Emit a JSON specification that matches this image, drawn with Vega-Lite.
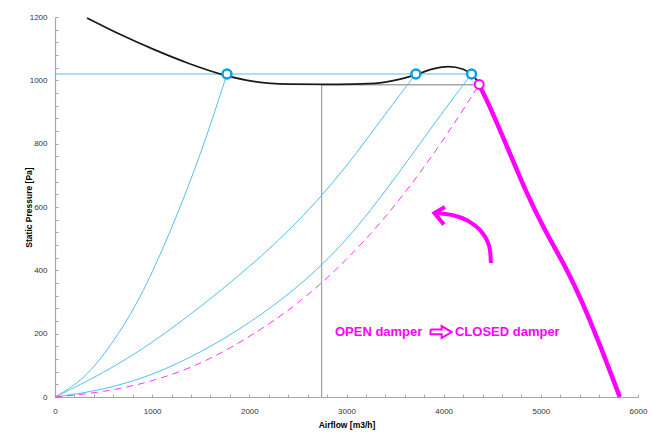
{
  "$schema": "https://vega.github.io/schema/vega-lite/v6.json",
  "width": 583,
  "height": 380,
  "autosize": {"type": "none"},
  "padding": {"left": 55, "top": 17, "right": 14, "bottom": 38},
  "background": "white",
  "config": {
    "view": {"stroke": null},
    "axis": {
      "grid": false,
      "domainColor": "#a6a6a6",
      "domainWidth": 1.2,
      "tickColor": "#a6a6a6",
      "tickSize": -3,
      "labelFont": "Liberation Sans",
      "labelFontSize": 8,
      "labelColor": "#333333",
      "titleFont": "Liberation Sans",
      "titleFontSize": 8.5,
      "titleFontWeight": "bold",
      "titleColor": "#000000"
    }
  },
  "datasets": {
    "gray": [
      {"x": 2744, "y": 0},
      {"x": 2744, "y": 986},
      {"x": 4366, "y": 986}
    ],
    "hline": [
      {"x": 0, "y": 1020},
      {"x": 4287, "y": 1020}
    ],
    "blue": [
      {"s": "b1", "x": 0, "y": 0},
      {"s": "b1", "x": 273, "y": 50},
      {"s": "b1", "x": 513, "y": 135},
      {"s": "b1", "x": 788, "y": 262},
      {"s": "b1", "x": 1028, "y": 408},
      {"s": "b1", "x": 1319, "y": 620},
      {"s": "b1", "x": 1550, "y": 812},
      {"s": "b1", "x": 1770, "y": 1020},
      {"s": "b2", "x": 0, "y": 0},
      {"s": "b2", "x": 500, "y": 75},
      {"s": "b2", "x": 1000, "y": 170},
      {"s": "b2", "x": 1500, "y": 285},
      {"s": "b2", "x": 2000, "y": 410},
      {"s": "b2", "x": 2500, "y": 550},
      {"s": "b2", "x": 3000, "y": 725},
      {"s": "b2", "x": 3400, "y": 895},
      {"s": "b2", "x": 3714, "y": 1020},
      {"s": "b3", "x": 0, "y": 0},
      {"s": "b3", "x": 500, "y": 22},
      {"s": "b3", "x": 1000, "y": 68},
      {"s": "b3", "x": 1500, "y": 140},
      {"s": "b3", "x": 2000, "y": 232},
      {"s": "b3", "x": 2500, "y": 345},
      {"s": "b3", "x": 3000, "y": 490},
      {"s": "b3", "x": 3500, "y": 690},
      {"s": "b3", "x": 4000, "y": 905},
      {"s": "b3", "x": 4287, "y": 1020}
    ],
    "dashed": [
      {"x": 0, "y": 0},
      {"x": 500, "y": 15},
      {"x": 1000, "y": 48},
      {"x": 1500, "y": 103},
      {"x": 2000, "y": 188},
      {"x": 2500, "y": 292},
      {"x": 3000, "y": 430},
      {"x": 3500, "y": 600},
      {"x": 4000, "y": 810},
      {"x": 4340, "y": 975}
    ],
    "fan": [
      {"x": 330, "y": 1197},
      {"x": 685, "y": 1143},
      {"x": 1028, "y": 1096},
      {"x": 1371, "y": 1054},
      {"x": 1715, "y": 1019},
      {"x": 2057, "y": 996},
      {"x": 2400, "y": 988},
      {"x": 2778, "y": 987},
      {"x": 3069, "y": 988},
      {"x": 3344, "y": 992},
      {"x": 3584, "y": 1006},
      {"x": 3714, "y": 1018},
      {"x": 3892, "y": 1036},
      {"x": 4046, "y": 1043},
      {"x": 4201, "y": 1035},
      {"x": 4287, "y": 1018},
      {"x": 4339, "y": 1001},
      {"x": 4366, "y": 985}
    ],
    "closed": [
      {"x": 4366, "y": 985},
      {"x": 4450, "y": 935},
      {"x": 4640, "y": 800},
      {"x": 4850, "y": 645},
      {"x": 5050, "y": 520},
      {"x": 5250, "y": 415},
      {"x": 5450, "y": 285},
      {"x": 5640, "y": 140},
      {"x": 5813, "y": 0}
    ],
    "arc": [
      {"x": 4486, "y": 423},
      {"x": 4465, "y": 480},
      {"x": 4383, "y": 524},
      {"x": 4239, "y": 558},
      {"x": 4095, "y": 574},
      {"x": 3910, "y": 581}
    ],
    "head": [
      {"x": 4013, "y": 600},
      {"x": 3905, "y": 581},
      {"x": 4002, "y": 545}
    ],
    "block": [
      {"x": 3865, "y": 213},
      {"x": 3979, "y": 213},
      {"x": 3979, "y": 224},
      {"x": 4082, "y": 205},
      {"x": 3979, "y": 186},
      {"x": 3979, "y": 198},
      {"x": 3865, "y": 198},
      {"x": 3865, "y": 213}
    ],
    "bluepts": [
      {"x": 1770, "y": 1020},
      {"x": 3714, "y": 1020},
      {"x": 4287, "y": 1020}
    ],
    "magpts": [
      {"x": 4366, "y": 987}
    ],
    "labels": [
      {"x": 2881, "y": 205, "t": "OPEN damper"},
      {"x": 4116, "y": 205, "t": "CLOSED damper"}
    ]
  },
  "encoding": {
    "x": {
      "field": "x",
      "type": "quantitative",
      "scale": {"domain": [0, 6000], "nice": false, "zero": false},
      "axis": {
        "title": "Airflow [m3/h]",
        "values": [0,200,400,600,800,1000,1200,1400,1600,1800,2000,2200,2400,2600,2800,3000,3200,3400,3600,3800,4000,4200,4400,4600,4800,5000,5200,5400,5600,5800,6000],
        "labelExpr": "datum.value % 1000 == 0 ? format(datum.value, 'd') : ''",
        "labelPadding": 13,
        "labelFlush": false,
        "titlePadding": 5
      }
    },
    "y": {
      "field": "y",
      "type": "quantitative",
      "scale": {"domain": [0, 1200], "nice": false, "zero": false},
      "axis": {
        "title": "Static Pressure [Pa]",
        "values": [0,40,80,120,160,200,240,280,320,360,400,440,480,520,560,600,640,680,720,760,800,840,880,920,960,1000,1040,1080,1120,1160,1200],
        "labelExpr": "datum.value % 200 == 0 ? format(datum.value, 'd') : ''",
        "labelPadding": 11,
        "labelFlush": false,
        "titleX": -27,
        "titleY": 190,
        "titleAngle": 270,
        "titleAlign": "center",
        "titleBaseline": "middle"
      }
    }
  },
  "layer": [
    {
      "data": {"name": "gray"},
      "mark": {"type": "line", "color": "#a6a6a6", "strokeWidth": 1.3},
      "encoding": {"order": {"value": null}}
    },
    {
      "data": {"name": "hline"},
      "mark": {"type": "line", "color": "#4fc1ee", "strokeWidth": 1},
      "encoding": {}
    },
    {
      "data": {"name": "blue"},
      "mark": {"type": "line", "color": "#4fc1ee", "strokeWidth": 1, "interpolate": "basis"},
      "encoding": {"detail": {"field": "s"}, "order": {"value": null}}
    },
    {
      "data": {"name": "dashed"},
      "mark": {"type": "line", "color": "#ff33ff", "strokeWidth": 1, "strokeDash": [7, 5], "interpolate": "basis"},
      "encoding": {"order": {"value": null}}
    },
    {
      "data": {"name": "fan"},
      "mark": {"type": "line", "color": "#1a1a1a", "strokeWidth": 1.8, "interpolate": "monotone"},
      "encoding": {"order": {"value": null}}
    },
    {
      "data": {"name": "closed"},
      "mark": {"type": "line", "color": "#ff00ff", "strokeWidth": 4.5, "interpolate": "basis"},
      "encoding": {"order": {"value": null}}
    },
    {
      "data": {"name": "arc"},
      "mark": {"type": "line", "color": "#ff00ff", "strokeWidth": 4, "interpolate": "cardinal", "strokeCap": "butt"},
      "encoding": {"order": {"value": null}}
    },
    {
      "data": {"name": "head"},
      "mark": {"type": "line", "color": "#ff00ff", "strokeWidth": 4, "strokeCap": "butt", "strokeJoin": "miter"},
      "encoding": {"order": {"value": null}}
    },
    {
      "data": {"name": "block"},
      "mark": {"type": "line", "color": "#ff00ff", "strokeWidth": 2, "strokeJoin": "miter"},
      "encoding": {"order": {"value": null}}
    },
    {
      "data": {"name": "bluepts"},
      "mark": {"type": "point", "shape": "circle", "size": 80, "filled": false, "fill": "white", "fillOpacity": 1, "stroke": "#0aa0e0", "strokeWidth": 2.5, "opacity": 1}
    },
    {
      "data": {"name": "magpts"},
      "mark": {"type": "point", "shape": "circle", "size": 80, "filled": false, "fill": "white", "fillOpacity": 1, "stroke": "#ff00ff", "strokeWidth": 2, "opacity": 1}
    },
    {
      "data": {"name": "labels"},
      "mark": {"type": "text", "align": "left", "baseline": "middle", "font": "Liberation Sans", "fontSize": 13, "fontWeight": "bold", "color": "#ff00ff"},
      "encoding": {"text": {"field": "t"}}
    }
  ]
}
